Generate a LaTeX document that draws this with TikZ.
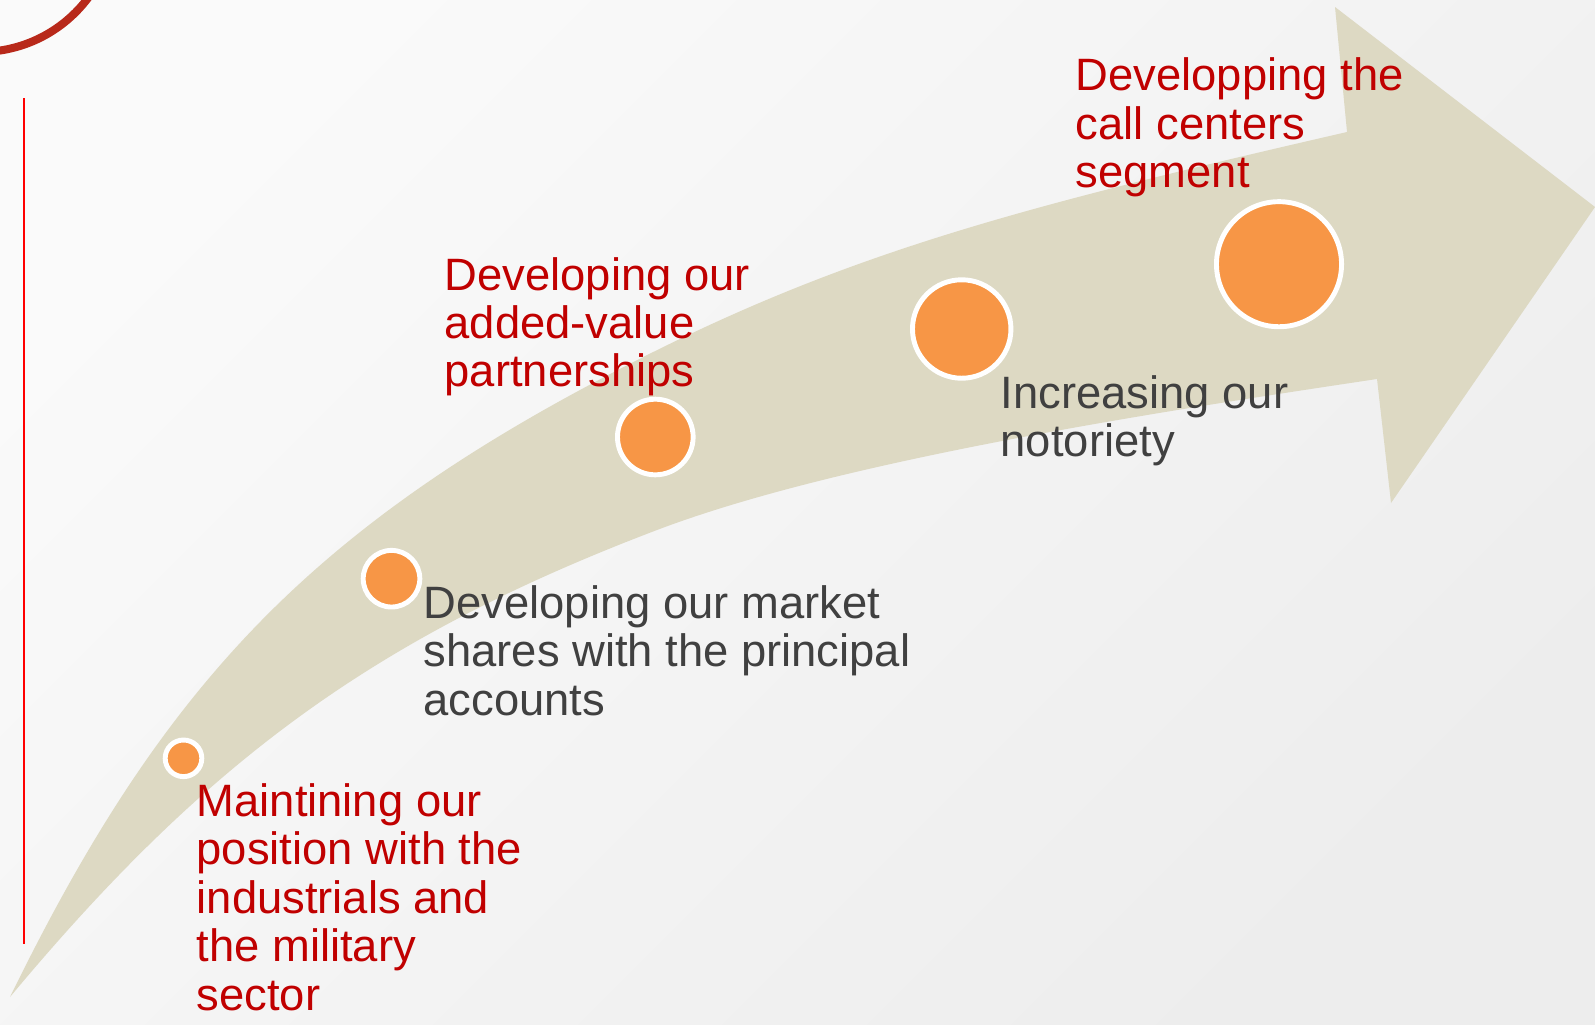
\documentclass[tikz,border=0pt]{standalone}
\usepackage{fontspec}
\setmainfont{Liberation Sans}
\definecolor{arrowtan}{HTML}{DDD9C3}
\definecolor{dotorange}{HTML}{F79646}
\definecolor{textred}{HTML}{C00000}
\definecolor{textgray}{HTML}{404040}
\definecolor{arcred}{HTML}{B8291A}

\begin{document}
\begin{tikzpicture}[x=0.01cm, y=-0.01cm,
    dot/.style={circle, fill=dotorange, draw=white, line width=1.4pt, inner sep=0pt},
    label/.style={anchor=base west, align=left, inner sep=0pt,
      font=\fontsize{12.9}{13.75}\selectfont}]
    \useasboundingbox (0,0) rectangle (1595,1024);
    \shade [top color=white!98!black, bottom color=white!93!black, shading angle=45] (0,0) rectangle (1595,1024);

    % corner mark and side rule
    \begin{scope}
      \clip (0,0) rectangle (1595,1024);
      \draw [arcred, line width=0.08cm] (-20,-83) circle [radius=135];
    \end{scope}
    \draw [red, line width=0.02cm] (24,98) -- (24,944);

    % the big curved arrow
    \fill [arrowtan] (10,997) .. controls (152,706.6) and (291.3,545.9) .. (580,390)
      .. controls (821,260) and (990,214.1) .. (1347,132)
      -- (1335,7) -- (1595,207) -- (1391,503) -- (1377,379)
      .. controls (1150,413) and (838.7,461) .. (657,530)
      .. controls (372.5,638.1) and (205.2,762.8) .. (10,997) -- cycle;

    \node [dot, minimum size=0.366cm] (1) at (183.5,758.3) {};
    \node [dot, minimum size=0.566cm] (2) at (391.5,578.7) {};
    \node [dot, minimum size=0.756cm] (3) at (655.3,437) {};
    \node [dot, minimum size=0.984cm] (4) at (961.7,329) {};
    \node [dot, minimum size=1.25cm] (5) at (1279,264.2) {};

    % labels sit on the baseline of their last line
    \node [label, textred] (6) at (196,1010) {Maintining our\\position with the\\industrials and\\the military\\sector};
    \node [label, textgray] (7) at (423,715) {Developing our market\\shares with the principal\\accounts};
    \node [label, textred] (8) at (444,386.7) {Developing our\\added-value\\partnerships};
    \node [label, textgray] (9) at (1000,456.7) {Increasing our\\notoriety};
    \node [label, textred] (10) at (1075,187.7) {Developping the\\call centers\\segment};
  \end{tikzpicture}
\end{document}
